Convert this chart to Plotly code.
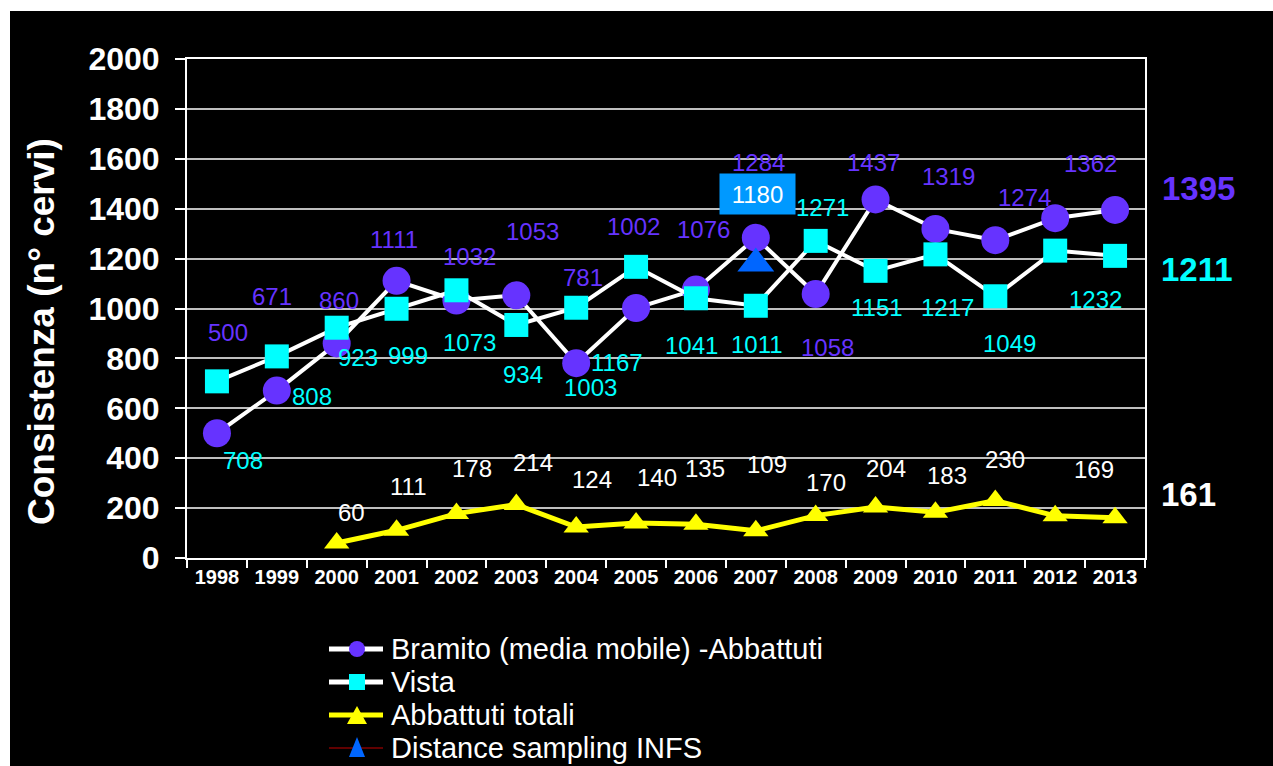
import plotly.graph_objects as go

# ---- data -------------------------------------------------------------
years = [str(y) for y in range(1998, 2014)]
bramito = [500, 671, 860, 1111, 1032, 1053, 781, 1002, 1076, 1284, 1058,
           1437, 1319, 1274, 1362, 1395]
vista = [708, 808, 923, 999, 1073, 934, 1003, 1167, 1041, 1011, 1271,
         1151, 1217, 1049, 1232, 1211]
abbattuti_years = years[2:]
abbattuti = [60, 111, 178, 214, 124, 140, 135, 109, 170, 204, 183, 230,
             169, 161]
distance_years = ["2007"]
distance = [1180]
y_ticks = [0, 200, 400, 600, 800, 1000, 1200, 1400, 1600, 1800, 2000]
series_names = ["Bramito (media mobile) -Abbattuti", "Vista",
                "Abbattuti totali", "Distance sampling INFS"]

# ---- label placement (pixel offsets from each point; None = no label) --
bramito_off = [(11, 101), (-5, 94), (2, 43), (-3, 41), (13, 44), (16, 64),
               (7, 86), (-3, 82), (8, 60), (3, 75), (12, -53), (-2, 37),
               (13, 52), (29, 43), (35, 55), None]
vista_off = [(26, -79), (35, -40), (21, -30), (11, -47), (13, -52),
             (7, -50), (14, -80), (-19, -96), (-4, -47), (1, -39), (7, 33),
             (1, -37), (12, -53), (14, -47), (40, -49), None]
abbattuti_off = [(15, 31), (11, 44), (16, 45), (17, 42), (16, 48), (21, 46),
                 (9, 56), (11, 66), (10, 33), (10, 39), (12, 37), (10, 41),
                 (39, 46), None]

PURPLE = "#6633FF"
CYAN = "#00FFFF"
YELLOW = "#FFFF00"
BLUE = "#0066FF"
DARKRED = "#800000"
FONT = "Liberation Sans, Arial, sans-serif"

W, H = 1273, 766
L, R, T, B = 187, 1145, 59, 558


def px(x):
    return (x - L) / (R - L)


def py(y):
    return (B - y) / (B - T)


fig = go.Figure()

fig.add_trace(go.Scatter(
    x=years, y=bramito, mode="lines+markers", name=series_names[0],
    line=dict(color="white", width=4),
    marker=dict(symbol="circle", size=28, color=PURPLE),
))
fig.add_trace(go.Scatter(
    x=years, y=vista, mode="lines+markers", name=series_names[1],
    line=dict(color="white", width=4),
    marker=dict(symbol="square", size=24, color=CYAN),
))
fig.add_trace(go.Scatter(
    x=abbattuti_years, y=abbattuti, mode="lines+markers",
    name=series_names[2],
    line=dict(color=YELLOW, width=5),
    marker=dict(symbol="triangle-up", size=22, color=YELLOW),
))
fig.add_trace(go.Scatter(
    x=distance_years, y=distance, mode="lines+markers",
    name=series_names[3],
    line=dict(color=DARKRED, width=1),
    marker=dict(symbol="triangle-up", size=32, color=BLUE),
))

annotations = []
shapes = []


def add_labels(xs, ys, offs, color):
    for x, v, off in zip(xs, ys, offs):
        if off is None:
            continue
        annotations.append(dict(
            x=years.index(x), y=v, xref="x", yref="y", text=str(v),
            showarrow=False, xshift=off[0], yshift=off[1],
            xanchor="center", yanchor="middle",
            font=dict(family=FONT, size=24, color=color),
        ))


add_labels(years, bramito, bramito_off, PURPLE)
add_labels(years, vista, vista_off, CYAN)
add_labels(abbattuti_years, abbattuti, abbattuti_off, "white")

# distance-sampling value in a filled box
annotations.append(dict(
    x=years.index(distance_years[0]), y=distance[0], xref="x", yref="y",
    text=str(distance[0]), showarrow=False, xshift=2, yshift=70,
    xanchor="center", yanchor="middle",
    width=75, height=40, bgcolor="#0099FF", borderpad=0,
    font=dict(family=FONT, size=24, color="white"),
))

# latest values, printed to the right of the plot
for v, color, dy, xc in [(bramito[-1], PURPLE, 21, 1198),
                          (vista[-1], CYAN, -14, 1197),
                          (abbattuti[-1], "white", 23, 1188)]:
    annotations.append(dict(
        x=px(xc), y=v, xref="paper", yref="y", text=str(v),
        showarrow=False, yshift=dy, xanchor="center", yanchor="middle",
        font=dict(family=FONT, size=33, color=color, weight="bold"),
    ))

# y-axis title
annotations.append(dict(
    x=px(41), y=py(332), xref="paper", yref="paper",
    text="Consistenza (n° cervi)", textangle=-90, showarrow=False,
    xanchor="center", yanchor="middle",
    font=dict(family=FONT, size=37, color="white", weight="bold"),
))

# ---- legend, drawn below the plot ---------------------------------------
leg_rows = [649, 682, 715, 748]
leg_x0, leg_x1, leg_xm, leg_text = 329, 383, 357, 389
leg_line = [("white", 5), ("white", 5), (YELLOW, 5), (DARKRED, 1.5)]

for name, row, (lc, lw) in zip(series_names, leg_rows, leg_line):
    shapes.append(dict(
        type="line", xref="paper", yref="paper",
        x0=px(leg_x0), x1=px(leg_x1), y0=py(row), y1=py(row),
        line=dict(color=lc, width=lw),
    ))
    annotations.append(dict(
        x=px(leg_text), y=py(row), xref="paper", yref="paper", text=name,
        showarrow=False, xanchor="left", yanchor="middle",
        font=dict(family=FONT, size=29, color="white"),
    ))


def tri_path(cx, cy, half_w, up, down):
    return "M {:.5f},{:.5f} L {:.5f},{:.5f} L {:.5f},{:.5f} Z".format(
        px(cx), py(cy - up), px(cx - half_w), py(cy + down),
        px(cx + half_w), py(cy + down))


r0 = leg_rows
shapes += [
    dict(type="circle", xref="paper", yref="paper",
         x0=px(leg_xm - 8), x1=px(leg_xm + 8),
         y0=py(r0[0] + 8), y1=py(r0[0] - 8),
         fillcolor=PURPLE, line=dict(width=0)),
    dict(type="rect", xref="paper", yref="paper",
         x0=px(leg_xm - 8), x1=px(leg_xm + 8),
         y0=py(r0[1] + 8), y1=py(r0[1] - 8),
         fillcolor=CYAN, line=dict(width=0)),
    dict(type="path", xref="paper", yref="paper",
         path=tri_path(leg_xm, r0[2], 10, 9, 9),
         fillcolor=YELLOW, line=dict(width=0)),
    dict(type="path", xref="paper", yref="paper",
         path=tri_path(leg_xm, r0[3], 8, 11, 9),
         fillcolor=BLUE, line=dict(width=0)),
]

# black page with a thin white strip along the top and left edges
shapes.insert(0, dict(
    type="rect", xref="paper", yref="paper", layer="below",
    x0=px(10), x1=px(W) + 0.02, y0=py(H) - 0.02, y1=py(11),
    fillcolor="black", line=dict(width=0),
))

fig.update_layout(
    width=W, height=H,
    margin=dict(l=L, r=W - R, t=T, b=H - B),
    paper_bgcolor="white",
    plot_bgcolor="black",
    showlegend=False,
    annotations=annotations,
    shapes=shapes,
)

fig.update_xaxes(
    type="category", categoryorder="array", categoryarray=years,
    range=[-0.5, len(years) - 0.5], autorange=False,
    showline=True, linecolor="white", linewidth=2, mirror=True,
    ticks="outside", tickson="boundaries", ticklen=8, tickcolor="white",
    tickwidth=2, showgrid=False, tickangle=0,
    tickfont=dict(family=FONT, size=20, color="white", weight="bold"),
)
fig.update_yaxes(
    range=[0, 2000], tickvals=y_ticks, autorange=False,
    showline=True, linecolor="white", linewidth=2, mirror=True,
    ticks="outside", ticklen=10, tickcolor="white", tickwidth=2,
    showgrid=True, gridcolor="#BFBFBF", gridwidth=2, zeroline=False,
    ticklabelstandoff=9,
    tickfont=dict(family=FONT, size=32, color="white", weight="bold"),
)

fig.write_html("out.html")
